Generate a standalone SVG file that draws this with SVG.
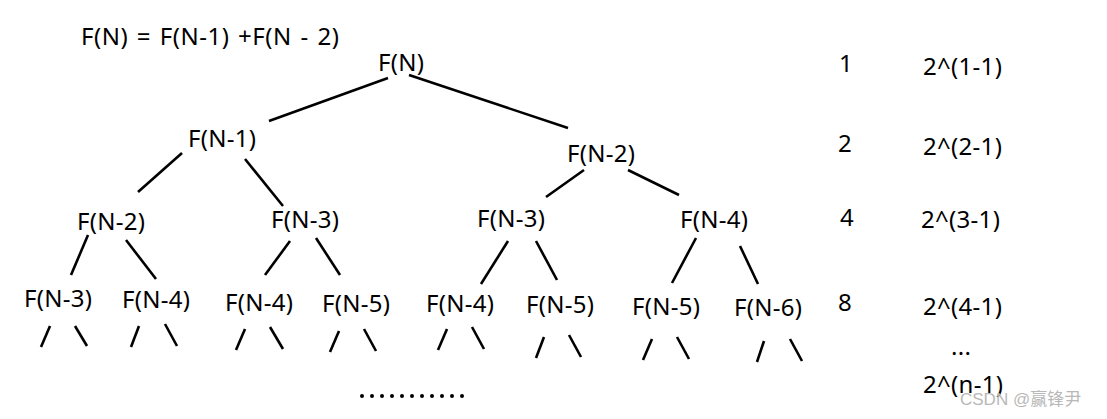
<svg xmlns="http://www.w3.org/2000/svg" width="1107" height="419" viewBox="0 0 1107 419">
<style>
text{font-family:"Noto Sans","Open Sans","Liberation Sans",sans-serif;font-size:24px;letter-spacing:0.3px;fill:#000}
.c line{stroke:#000;stroke-width:2.6;stroke-linecap:butt}
.wm{font-family:"Liberation Sans","Noto Sans CJK SC",sans-serif;font-size:17px;letter-spacing:0;fill:#b8b8b8}
</style>
<rect width="1107" height="419" fill="#fff"/>
<g id="formula"><text x="81" y="45" style="letter-spacing:0.5px;word-spacing:2px">F(N) = F(N-1) +F(N - 2)</text></g>
<g id="n0"><text x="378" y="71">F(N)</text></g>
<g id="n1"><text x="188" y="147">F(N-1)</text></g>
<g id="n2"><text x="567" y="162">F(N-2)</text></g>
<g id="n3"><text x="77" y="230">F(N-2)</text></g>
<g id="n4"><text x="271" y="228">F(N-3)</text></g>
<g id="n5"><text x="477" y="227">F(N-3)</text></g>
<g id="n6"><text x="680" y="228">F(N-4)</text></g>
<g id="n7"><text x="24" y="307">F(N-3)</text></g>
<g id="n8"><text x="122" y="308">F(N-4)</text></g>
<g id="n9"><text x="225" y="311">F(N-4)</text></g>
<g id="n10"><text x="322" y="312">F(N-5)</text></g>
<g id="n11"><text x="426" y="312">F(N-4)</text></g>
<g id="n12"><text x="526" y="313">F(N-5)</text></g>
<g id="n13"><text x="632" y="315">F(N-5)</text></g>
<g id="n14"><text x="734" y="316">F(N-6)</text></g>
<g id="counts">
<text x="839" y="72">1</text>
<text x="838" y="152">2</text>
<text x="840" y="226">4</text>
<text x="838" y="311">8</text>
</g>
<g id="powers">
<text x="923" y="75">2^(1-1)</text>
<text x="923" y="155">2^(2-1)</text>
<text x="921" y="228">2^(3-1)</text>
<text x="923" y="315">2^(4-1)</text>
<text x="951" y="355">...</text>
<text x="923" y="393">2^(n-1)</text>
</g>
<g id="connectors" class="c">
<line x1="388" y1="78" x2="269" y2="121"/>
<line x1="409" y1="75" x2="568" y2="128"/>
<line x1="182" y1="153" x2="138" y2="192"/>
<line x1="245" y1="159" x2="283" y2="206"/>
<line x1="584" y1="170" x2="546" y2="197"/>
<line x1="628" y1="170" x2="679" y2="195"/>
<line x1="88" y1="235" x2="71" y2="275"/>
<line x1="126" y1="240" x2="156" y2="279"/>
<line x1="290" y1="241" x2="265" y2="275"/>
<line x1="316" y1="238" x2="340" y2="275"/>
<line x1="508" y1="241" x2="481" y2="284"/>
<line x1="536" y1="241" x2="557" y2="280"/>
<line x1="696" y1="238" x2="672" y2="283"/>
<line x1="740" y1="246" x2="758" y2="284"/>
<line x1="50" y1="326" x2="41" y2="347"/>
<line x1="75" y1="326" x2="87" y2="346"/>
<line x1="139" y1="326" x2="131" y2="347"/>
<line x1="165" y1="324" x2="177" y2="346"/>
<line x1="245" y1="329" x2="236" y2="350"/>
<line x1="270" y1="327" x2="283" y2="349"/>
<line x1="339" y1="331" x2="330" y2="352"/>
<line x1="364" y1="329" x2="376" y2="351"/>
<line x1="447" y1="329" x2="438" y2="350"/>
<line x1="472" y1="327" x2="484" y2="349"/>
<line x1="544" y1="337" x2="536" y2="358"/>
<line x1="569" y1="335" x2="581" y2="357"/>
<line x1="652" y1="339" x2="643" y2="360"/>
<line x1="677" y1="337" x2="689" y2="359"/>
<line x1="764" y1="341" x2="757" y2="362"/>
<line x1="790" y1="339" x2="802" y2="361"/>
</g>
<g id="dots" fill="#000">
<circle cx="362" cy="396" r="2"/><circle cx="372" cy="396" r="2"/><circle cx="382" cy="396" r="2"/><circle cx="392" cy="396" r="2"/><circle cx="402" cy="396" r="2"/><circle cx="412" cy="396" r="2"/><circle cx="422" cy="396" r="2"/><circle cx="432" cy="396" r="2"/><circle cx="442" cy="396" r="2"/><circle cx="452" cy="396" r="2"/><circle cx="462" cy="396" r="2"/>
</g>
<g id="watermark"><text class="wm" x="960" y="405">CSDN @赢锋尹</text></g>
</svg>
